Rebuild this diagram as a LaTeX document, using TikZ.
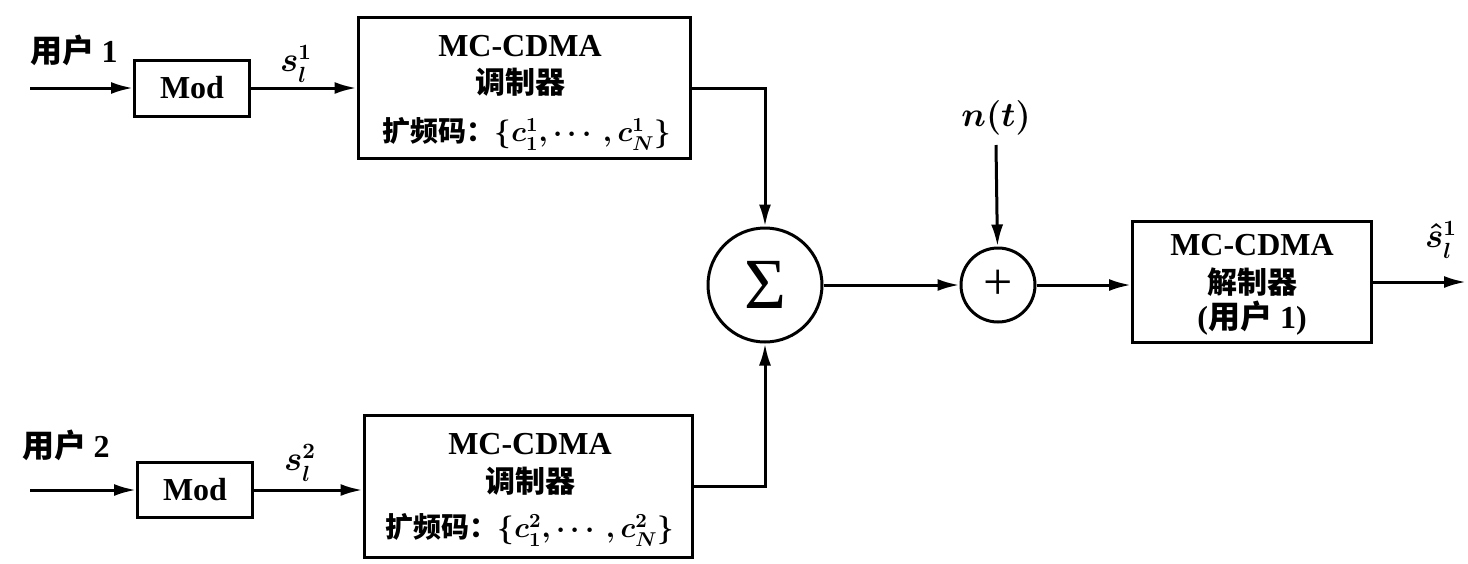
\documentclass[tikz,border=0pt]{standalone}
\usepackage{amsmath}
\usepackage{fontspec}
\setmainfont{Liberation Serif}
\newfontfamily\cjk{Noto Sans CJK SC}
\usetikzlibrary{arrows.meta}

\begin{document}
\begin{tikzpicture}[x=0.5pt, y=-0.5pt,
  line width=1.5pt,
  >={Latex[length=11pt,width=6pt]},
  blk/.style={draw, rectangle, inner sep=0pt},
  txt/.style={inner sep=0pt, font={\bfseries\boldmath\fontsize{16}{18}\selectfont}},
  code/.style={inner sep=0pt, font={\bfseries\boldmath\fontsize{14}{18}\selectfont}},
  zh/.style={inner sep=0pt, font={\cjk\bfseries\fontsize{15}{18}\selectfont}},
  user/.style={inner sep=0pt, font={\cjk\bfseries\fontsize{16}{18}\selectfont}}]
\useasboundingbox (0,0) rectangle (1468,563);
% user 1 branch
\node[user] (user1) at (74,50) {用户\ {\rmfamily 1}};
\coordinate (in1) at (30,88);
\node[blk, txt, minimum width=57.5pt, minimum height=28pt] (mod1) at (192,88) {Mod};
\node[txt] (s1) at (296,64) {$s_l^1$};
\node[blk, minimum width=166pt, minimum height=70.5pt] (mc1) at (524,88) {};
\node[txt] (mc1a) at (520,46) {MC-CDMA};
\node[zh] (mc1b) at (520,82) {调制器};
\node[code] (mc1c) at (527,134) {{\cjk 扩频码：}$\lbrace c_1^1,\cdots,c_N^1\rbrace$};
% user 2 branch
\node[user] (user2) at (66,445) {用户\ {\rmfamily 2}};
\coordinate (in2) at (30,490);
\node[blk, txt, minimum width=57.5pt, minimum height=27.5pt] (mod2) at (195,490) {Mod};
\node[txt] (s2) at (300,463) {$s_l^2$};
\node[blk, minimum width=164pt, minimum height=71pt] (mc2) at (528,486) {};
\node[txt] (mc2a) at (530,444) {MC-CDMA};
\node[zh] (mc2b) at (530,481) {调制器};
\node[code] (mc2c) at (530,530) {{\cjk 扩频码：}$\lbrace c_1^2,\cdots,c_N^2\rbrace$};
% sum, noise and receiver
\node[draw, circle, minimum size=57pt, inner sep=0pt, font={\fontsize{36}{36}\selectfont}] (sum) at (765,285) {Σ};
\node[draw, circle, minimum size=37pt, inner sep=0pt, font={\fontsize{26}{26}\selectfont}] (plus) at (998,285) {+};
\node[txt] (noise) at (996,118) {$n(t)$};
\coordinate (ntop) at (996,145);
\node[blk, minimum width=119.5pt, minimum height=60.5pt] (demod) at (1252,282) {};
\node[txt] (demoda) at (1252,245) {MC-CDMA};
\node[zh] (demodb) at (1252,282) {解制器};
\node[txt] (demodc) at (1252,318) {({\cjk 用户}\ {\rmfamily 1})};
\coordinate (out) at (1466,282);
\node[txt] (shat) at (1441,240) {$\hat{s}_l^1$};
% connectors
\draw[->] (in1) -- (mod1);
\draw[->] (mod1) -- (mc1);
\draw[->] (in2) -- (mod2);
\draw[->] (mod2.east) -- (mod2.east -| mc2.west);
\draw[->] (mc1.east) -| (sum.north);
\draw[->] (mc2.east) -| (sum.south);
\draw[->] (sum) -- (plus);
\draw[->] (ntop) -- (plus);
\draw[->] (plus) -- (plus -| demod.west);
\draw[->] (demod.east) -- (out);
\end{tikzpicture}
\end{document}
